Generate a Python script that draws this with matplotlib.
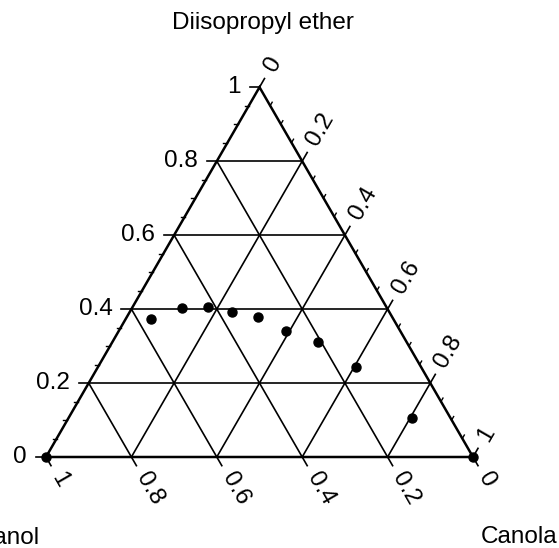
import numpy as np
import matplotlib.pyplot as plt

plt.rcParams['font.family'] = ['Liberation Sans', 'DejaVu Sans']

# Mass fractions of each measured composition
ether = np.array([0.372, 0.402, 0.405, 0.391, 0.379, 0.342, 0.312, 0.244, 0.106, 0.0, 0.0])
canola = np.array([0.060, 0.118, 0.177, 0.240, 0.308, 0.392, 0.480, 0.603, 0.803, 1.0, 0.0])
ethanol = 1 - ether - canola

ticks = [0, 0.2, 0.4, 0.6, 0.8, 1]
tick_labels = ['0', '0.2', '0.4', '0.6', '0.8', '1']
minor = [v for v in np.arange(0.05, 1.0, 0.05) if abs(v / 0.2 - round(v / 0.2)) > 1e-6]

H = np.sqrt(3) / 2
PX = 1 / 427          # one pixel in triangle units
FS = 17.5


def to_xy(c, d):
    # canola -> right corner, ether -> top corner, ethanol -> left corner
    return c + d / 2, d * H


fig = plt.figure(figsize=(5.59, 5.48), dpi=100)
ax = fig.add_axes([0, 0, 1, 1])
ax.set_xlim(-46 * PX, 513 * PX)
ax.set_ylim(-91 * PX, 457 * PX)
ax.axis('off')

# inner grid
for v in ticks[1:-1]:
    for a, b in [((0, v), (1 - v, v)),          # constant ether
                 ((v, 0), (v, 1 - v)),          # constant canola
                 ((1 - v, 0), (0, 1 - v))]:     # constant ethanol
        x0, y0 = to_xy(*a)
        x1, y1 = to_xy(*b)
        ax.plot([x0, x1], [y0, y1], color='black', lw=1.2)

# outer triangle
tx, ty = zip(*[to_xy(0, 0), to_xy(1, 0), to_xy(0, 1), to_xy(0, 0)])
ax.plot(tx, ty, color='black', lw=1.8, solid_joinstyle='miter')

left_dir = np.array([-1.0, 0.0])
right_dir = np.array([np.cos(np.radians(60)), np.sin(np.radians(60))])
bottom_dir = np.array([np.cos(np.radians(-60)), np.sin(np.radians(-60))])


def tick(p, direction, length, lw=1.2):
    q = p + direction * length * PX
    ax.plot([p[0], q[0]], [p[1], q[1]], color='black', lw=lw)


# ether axis on the left edge
for v, lab in zip(ticks, tick_labels):
    p = np.array(to_xy(0, v))
    tick(p, left_dir, 10)
    ax.text(p[0] - 19 * PX, p[1], lab, ha='right', va='center', fontsize=FS)
for v in minor:
    tick(np.array(to_xy(0, v)), left_dir, 4, 1.0)

# canola axis on the right edge
for v, lab in zip(ticks, tick_labels):
    p = np.array(to_xy(v, 1 - v))
    tick(p, right_dir, 10)
    q = p + right_dir * 20 * PX
    ax.text(q[0], q[1], lab, rotation=60, rotation_mode='anchor',
            ha='left', va='center', fontsize=FS)
for v in minor:
    tick(np.array(to_xy(v, 1 - v)), right_dir, 4, 1.0)

# ethanol axis on the bottom edge
for v, lab in zip(ticks, tick_labels):
    p = np.array(to_xy(1 - v, 0))
    tick(p, bottom_dir, 10)
    q = p + bottom_dir * 20 * PX
    ax.text(q[0], q[1], lab, rotation=-60, rotation_mode='anchor',
            ha='left', va='center', fontsize=FS)

# data points
x, y = to_xy(canola, ether)
ax.plot(x, y, 'o', color='black', ms=6.5, zorder=5, clip_on=False)

# corner names
ax.text(0.508, 1.016, 'Diisopropyl ether', ha='center', va='center', fontsize=FS)
ax.text(1.197, -0.188, 'Canola', ha='right', va='center', fontsize=FS)
ax.text(-0.016, -0.19, 'Ethanol', ha='right', va='center', fontsize=FS)

plt.savefig('out.png', dpi=100)
plt.close(fig)
